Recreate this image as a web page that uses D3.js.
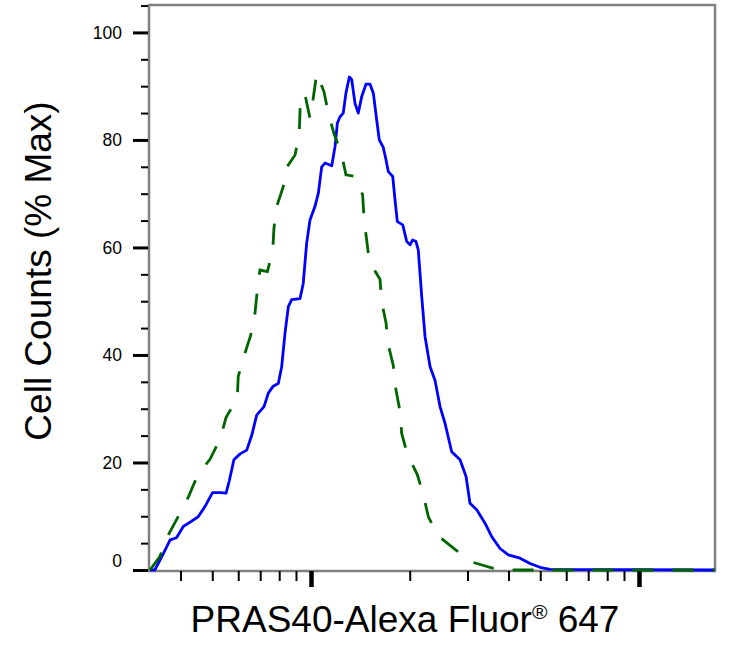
<!DOCTYPE html>
<html>
<head>
<meta charset="utf-8">
<script src="https://cdn.jsdelivr.net/npm/d3@7"></script>
<style>
  body { margin: 0; background: #fff; }
  svg { display: block; }
</style>
</head>
<body>
<div id="chart"></div>
<script>
'use strict';

// blue histogram (PRAS40 stained)
var blueX = [323, 334, 355, 372, 389, 408, 428, 453, 475, 501, 528, 551, 564, 582, 608, 637, 660, 683, 719, 741,
  767, 795, 814, 833, 853, 873, 926, 947, 970, 993, 1028, 1053, 1078, 1103, 1157, 1184, 1203, 1226, 1254, 1278,
  1309, 1331, 1362, 1394, 1428, 1472, 1513, 1549, 1586, 1615, 1661, 1693, 1721, 1775, 1804, 1833, 1904, 1958, 2004, 2042,
  2090, 2124, 2176, 2227, 2307, 2388, 2474, 2562, 2685, 2847, 2970, 3053, 3201, 3393, 3556, 3770, 3996, 4338, 4653, 4991,
  5355, 17000];
var blueY = [0, 0, 3.1, 5.6, 6.0, 8.1, 8.9, 9.9, 11.8, 14.4, 14.4, 14.3, 16.7, 20.5, 21.6, 22.3, 25.1, 28.8, 30.4, 32.9,
  34.2, 34.7, 37.8, 44.0, 49.0, 50.3, 50.5, 53.3, 60.8, 65.1, 67.6, 70.1, 75.0, 75.7, 75.2, 78.8, 83.1, 84.3, 85.0, 88.7,
  91.7, 91.2, 86.8, 85.0, 88.1, 90.4, 90.4, 88.7, 83.7, 80.0, 78.6, 76.3, 74.1, 73.2, 68.8, 64.8, 64.2, 61.1, 60.5, 61.4,
  61.1, 59.5, 50.8, 43.4, 37.8, 35.3, 30.4, 27.3, 22.0, 20.5, 17.4, 12.4, 11.2, 8.7, 6.2, 4.0, 2.8, 2.2, 1.2, 0.5,
  0.1, 0];

// green dashed histogram (control)
var greenX = [323, 346, 367, 394, 423, 450, 492, 528, 551, 596, 600, 625, 655, 675, 691, 699, 736, 764, 771, 786,
  823, 846, 894, 921, 926, 937, 959, 993, 1016, 1041, 1095, 1129, 1175, 1241, 1278, 1362, 1437, 1451, 1478, 1506,
  1623, 1643, 1693, 1721, 1782, 1816, 1868, 1890, 1966, 2110, 2200, 2279, 2444, 2767, 3089, 3596, 4044, 17000];
var greenY = [0, 2.5, 6.5, 10.0, 13.6, 17.5, 20.6, 24.3, 28.4, 31.9, 36.0, 39.8, 43.7, 47.8, 54.0, 55.8, 55.5, 59.2, 63.6, 67.6,
  71.3, 75.0, 77.2, 81.2, 85.6, 88.4, 88.4, 84.0, 87.8, 92.4, 89.0, 85.0, 81.2, 77.2, 73.5, 73.2, 69.8, 65.4, 61.4, 57.4,
  54.1, 49.9, 46.0, 41.9, 38.0, 33.5, 29.5, 25.4, 21.6, 17.7, 14.0, 9.9, 6.3, 3.7, 1.5, 0.3, 0, 0];

var yMajor = [0, 20, 40, 60, 80, 100];
var yMinor = [5, 10, 15, 25, 30, 35, 45, 50, 55, 65, 70, 75, 85, 90, 95, 105];
var xMajor = [1000, 10000];
var xMinor = [400, 500, 600, 700, 800, 900, 2000, 3000, 4000, 5000, 6000, 7000, 8000, 9000];

var width = 743;
var height = 650;
var plotLeft = 149, plotRight = 715, plotTop = 5, plotBottom = 570;

var svg = d3.select('#chart').append('svg').attr('width', width).attr('height', height);

var x = d3.scaleLog().domain([320.7, 17050]).range([plotLeft, plotRight]);
var y = d3.scaleLinear().domain([0, 105.1]).range([plotBottom, plotTop]);

// frame
svg.append('rect').attr('x', plotLeft).attr('y', plotTop).attr('width', plotRight - plotLeft).attr('height', plotBottom - plotTop + 1)
  .attr('fill', 'none').attr('stroke', '#808080').attr('stroke-width', 2.5);

// y axis
var yMinorAxis = svg.append('g').attr('transform', 'translate(' + (plotLeft - 1) + ',0)')
  .call(d3.axisLeft(y).tickValues(yMinor).tickSize(7).tickFormat(''));
yMinorAxis.select('.domain').remove();
yMinorAxis.selectAll('line').attr('stroke', '#000').attr('stroke-width', 2);

var yMajorAxis = svg.append('g').attr('transform', 'translate(' + (plotLeft - 1) + ',0)')
  .call(d3.axisLeft(y).tickValues(yMajor).tickSize(15).tickPadding(11));
yMajorAxis.select('.domain').remove();
yMajorAxis.selectAll('line').attr('stroke', '#000').attr('stroke-width', 3);
yMajorAxis.selectAll('text').attr('font-family', 'Liberation Sans, Arial, sans-serif').attr('font-size', 17.5).attr('fill', '#000');
yMajorAxis.selectAll('.tick').filter(function (d) { return d === 0; }).select('text').attr('y', -9);

// x axis
var xMinorAxis = svg.append('g').attr('transform', 'translate(0,' + (plotBottom + 1) + ')')
  .call(d3.axisBottom(x).tickValues(xMinor).tickSize(10).tickFormat(''));
xMinorAxis.select('.domain').remove();
xMinorAxis.selectAll('line').attr('stroke', '#000').attr('stroke-width', 2);

var xMajorAxis = svg.append('g').attr('transform', 'translate(0,' + (plotBottom + 1) + ')')
  .call(d3.axisBottom(x).tickValues(xMajor).tickSize(16).tickFormat(''));
xMajorAxis.select('.domain').remove();
xMajorAxis.selectAll('line').attr('stroke', '#000').attr('stroke-width', 4.5);

// curves
var line = d3.line().x(function (d) { return x(d[0]); }).y(function (d) { return y(d[1]); });

svg.append('path').datum(d3.zip(blueX, blueY)).attr('d', line)
  .attr('fill', 'none').attr('stroke', '#0000ff').attr('stroke-width', 2.8).attr('stroke-linejoin', 'round');

svg.append('path').datum(d3.zip(greenX, greenY)).attr('d', line)
  .attr('fill', 'none').attr('stroke', '#006400').attr('stroke-width', 2.8).attr('stroke-dasharray', '21,19');

// titles
var xTitle = svg.append('text').attr('x', 405).attr('y', 632).attr('text-anchor', 'middle')
  .attr('font-family', 'Liberation Sans, Arial, sans-serif').attr('font-size', 37).attr('fill', '#000');
xTitle.append('tspan').text('PRAS40-Alexa Fluor');
xTitle.append('tspan').attr('font-size', 21).attr('dy', -13).text('®');
xTitle.append('tspan').attr('dy', 13).text(' 647');

svg.append('text').attr('transform', 'translate(51,271) rotate(-90)').attr('text-anchor', 'middle')
  .attr('font-family', 'Liberation Sans, Arial, sans-serif').attr('font-size', 37).attr('fill', '#000')
  .text('Cell Counts (% Max)');
</script>
</body>
</html>
